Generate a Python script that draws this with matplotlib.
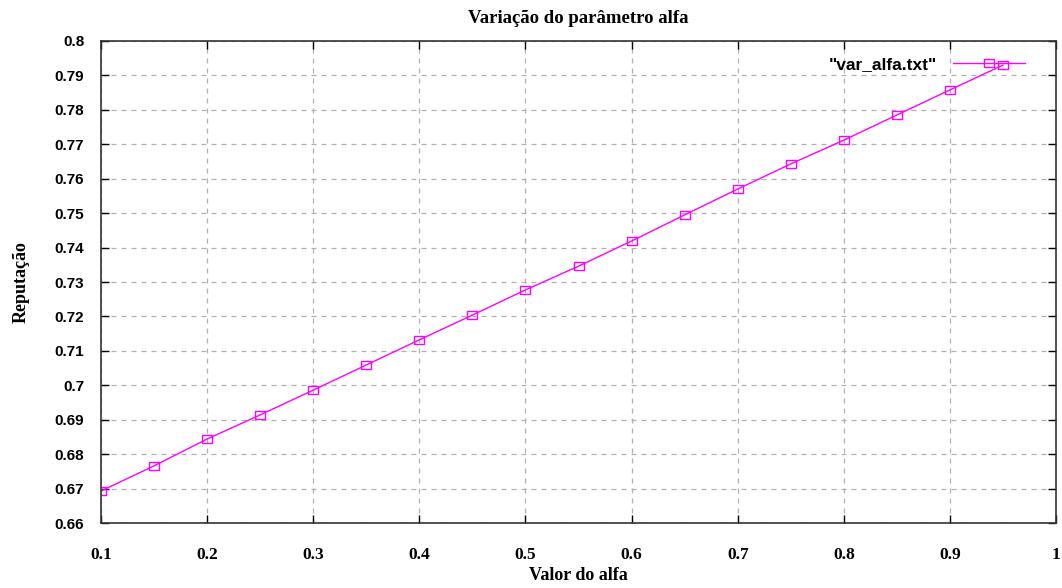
import numpy as np
from matplotlib import pyplot as plt

# data
alfa = [0.10, 0.15, 0.20, 0.25, 0.30, 0.35, 0.40, 0.45, 0.50,
        0.55, 0.60, 0.65, 0.70, 0.75, 0.80, 0.85, 0.90, 0.95]
reputacao = [0.6693, 0.6766, 0.6844, 0.6914, 0.6986, 0.7059, 0.7132, 0.7204, 0.7277,
             0.7346, 0.7419, 0.7495, 0.7570, 0.7643, 0.7712, 0.7785, 0.7858, 0.7930]
x_ticks = [0.1, 0.2, 0.3, 0.4, 0.5, 0.6, 0.7, 0.8, 0.9, 1]
y_ticks = [0.66, 0.67, 0.68, 0.69, 0.70, 0.71, 0.72, 0.73, 0.74, 0.75,
           0.76, 0.77, 0.78, 0.79, 0.80]

SERIF = ["Liberation Serif", "DejaVu Serif"]
SANS = ["Liberation Sans", "DejaVu Sans"]

# gnuplot style box: a little wider than tall
box = [(-1, -0.7), (1, -0.7), (1, 0.7), (-1, 0.7), (-1, -0.7)]

fig = plt.figure(figsize=(10.62, 5.88), dpi=100)
ax = fig.add_axes([0.0951, 0.1105, 0.8993, 0.8198])

ax.plot(alfa, reputacao, color="#ff00ff", linewidth=1, marker=box, markersize=7.5,
        markerfacecolor="none", markeredgewidth=1, label='"var_alfa.txt"')

ax.set_xlim(0.1, 1)
ax.set_ylim(0.66, 0.8)
ax.set_xticks(x_ticks)
ax.set_xticklabels([f"{v:g}" for v in x_ticks])
ax.set_yticks(y_ticks)
ax.set_yticklabels([f"{v:g}" for v in y_ticks])
ax.tick_params(direction="in", length=6, width=1, top=True, right=True)
ax.tick_params(axis="x", pad=17)
ax.tick_params(axis="y", pad=12)
for lbl in ax.get_xticklabels():
    lbl.set_family(SERIF)
    lbl.set_fontweight("bold")
    lbl.set_fontsize(12.5)
for lbl in ax.get_yticklabels():
    lbl.set_family(SANS)
    lbl.set_fontweight("bold")
    lbl.set_fontsize(11)

ax.grid(True, color="#b0b0b0", linestyle=(0, (4, 4)), linewidth=0.9)
for s in ax.spines.values():
    s.set_linewidth(1.2)
    s.set_color("#333333")

ax.set_xlabel("Valor do alfa", family=SERIF, fontweight="bold", fontsize=13, labelpad=3)
ax.set_ylabel("Reputação", family=SERIF, fontweight="bold", fontsize=13, labelpad=18)
ax.set_title("Variação do parâmetro alfa", family=SERIF, fontweight="bold", fontsize=13.5, pad=13)

leg = ax.legend(loc="upper right", frameon=False, markerfirst=False, handlelength=4.15,
                handletextpad=0.9, prop={"family": SANS, "weight": "bold", "size": 12.5},
                borderaxespad=0.5, bbox_to_anchor=(0.984, 1.0))

fig.savefig("out.png", dpi=100)
